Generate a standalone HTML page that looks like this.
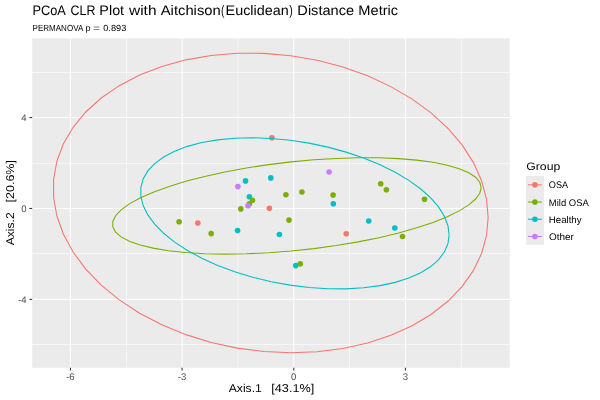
<!DOCTYPE html>
<html><head><meta charset="utf-8"><style>
html,body{margin:0;padding:0;background:#fff;width:600px;height:400px;overflow:hidden;}
svg{display:block;will-change:transform;}
text{text-rendering:geometricPrecision;}
</style></head><body>
<svg width="600" height="400" viewBox="0 0 600 400">
<rect width="600" height="400" fill="#fff"/>
<rect x="32.2" y="38.3" width="477.6" height="329.5" fill="#EBEBEB"/>
<line x1="126.45" y1="38.3" x2="126.45" y2="367.8" stroke="#fff" stroke-width="0.6"/>
<line x1="237.97" y1="38.3" x2="237.97" y2="367.8" stroke="#fff" stroke-width="0.6"/>
<line x1="349.5" y1="38.3" x2="349.5" y2="367.8" stroke="#fff" stroke-width="0.6"/>
<line x1="461.4" y1="38.3" x2="461.4" y2="367.8" stroke="#fff" stroke-width="0.6"/>
<line x1="32.2" y1="72.5" x2="509.8" y2="72.5" stroke="#fff" stroke-width="0.6"/>
<line x1="32.2" y1="163.45" x2="509.8" y2="163.45" stroke="#fff" stroke-width="0.6"/>
<line x1="32.2" y1="253.5" x2="509.8" y2="253.5" stroke="#fff" stroke-width="0.6"/>
<line x1="32.2" y1="344.5" x2="509.8" y2="344.5" stroke="#fff" stroke-width="0.6"/>
<line x1="70.44" y1="38.3" x2="70.44" y2="367.8" stroke="#fff" stroke-width="1.07"/>
<line x1="182.1" y1="38.3" x2="182.1" y2="367.8" stroke="#fff" stroke-width="1.07"/>
<line x1="293.77" y1="38.3" x2="293.77" y2="367.8" stroke="#fff" stroke-width="1.07"/>
<line x1="405.44" y1="38.3" x2="405.44" y2="367.8" stroke="#fff" stroke-width="1.07"/>
<line x1="32.2" y1="299.37" x2="509.8" y2="299.37" stroke="#fff" stroke-width="1.07"/>
<line x1="32.2" y1="208.45" x2="509.8" y2="208.45" stroke="#fff" stroke-width="1.07"/>
<line x1="32.2" y1="117.53" x2="509.8" y2="117.53" stroke="#fff" stroke-width="1.07"/>
<circle cx="245.5" cy="180.9" r="2.8" fill="#00BFC4"/>
<circle cx="270.8" cy="177.9" r="2.8" fill="#00BFC4"/>
<circle cx="249.4" cy="196.8" r="2.8" fill="#00BFC4"/>
<circle cx="237.6" cy="230.45" r="2.8" fill="#00BFC4"/>
<circle cx="279.4" cy="234.5" r="2.8" fill="#00BFC4"/>
<circle cx="295.8" cy="265.6" r="2.8" fill="#00BFC4"/>
<circle cx="333.3" cy="203.7" r="2.8" fill="#00BFC4"/>
<circle cx="368.7" cy="221" r="2.8" fill="#00BFC4"/>
<circle cx="394.8" cy="228" r="2.8" fill="#00BFC4"/>
<circle cx="271.9" cy="137.8" r="2.8" fill="#F8766D"/>
<circle cx="269.4" cy="208.3" r="2.8" fill="#F8766D"/>
<circle cx="197.85" cy="222.96" r="2.8" fill="#F8766D"/>
<circle cx="346.2" cy="233.7" r="2.8" fill="#F8766D"/>
<circle cx="252.5" cy="200.2" r="2.8" fill="#7CAE00"/>
<circle cx="249.4" cy="203.8" r="2.8" fill="#7CAE00"/>
<circle cx="240.8" cy="208.9" r="2.8" fill="#7CAE00"/>
<circle cx="285.9" cy="194.75" r="2.8" fill="#7CAE00"/>
<circle cx="301.9" cy="192" r="2.8" fill="#7CAE00"/>
<circle cx="289" cy="220.1" r="2.8" fill="#7CAE00"/>
<circle cx="179.1" cy="221.8" r="2.8" fill="#7CAE00"/>
<circle cx="211.2" cy="233.6" r="2.8" fill="#7CAE00"/>
<circle cx="300.3" cy="263.7" r="2.8" fill="#7CAE00"/>
<circle cx="333.1" cy="195.1" r="2.8" fill="#7CAE00"/>
<circle cx="380.7" cy="183.8" r="2.8" fill="#7CAE00"/>
<circle cx="386.4" cy="189.7" r="2.8" fill="#7CAE00"/>
<circle cx="424.5" cy="199.3" r="2.8" fill="#7CAE00"/>
<circle cx="402.5" cy="236.5" r="2.8" fill="#7CAE00"/>
<circle cx="237.9" cy="186.6" r="2.8" fill="#C77CFF"/>
<circle cx="248" cy="205.8" r="2.8" fill="#C77CFF"/>
<circle cx="329.1" cy="172" r="2.8" fill="#C77CFF"/>
<path d="M488.15 217.49 L486.5 199.05 L481.58 180.66 L473.46 162.61 L462.27 145.18 L448.18 128.61 L431.39 113.18 L412.17 99.1 L390.8 86.6 L367.61 75.86 L342.95 67.05 L317.2 60.3 L290.74 55.71 L263.97 53.35 L237.31 53.26 L211.15 55.43 L185.9 59.85 L161.93 66.43 L139.61 75.08 L119.27 85.67 L101.24 98.03 L85.76 111.99 L73.1 127.32 L63.42 143.8 L56.89 161.18 L53.6 179.19 L53.6 197.56 L56.89 216.01 L63.42 234.26 L73.1 252.04 L85.76 269.07 L101.24 285.1 L119.27 299.88 L139.61 313.19 L161.93 324.84 L185.9 334.63 L211.15 342.43 L237.31 348.11 L263.97 351.59 L290.74 352.82 L317.2 351.78 L342.95 348.47 L367.61 342.97 L390.8 335.34 L412.17 325.7 L431.39 314.2 L448.18 301.01 L462.27 286.34 L473.46 270.4 L481.58 253.44 L486.5 235.72 L488.15 217.49" fill="none" stroke="#F8766D" stroke-width="1.07"/>
<path d="M481.17 187.59 L479.77 182.25 L475.6 177.27 L468.72 172.72 L459.23 168.68 L447.29 165.2 L433.06 162.33 L416.76 160.13 L398.65 158.62 L378.99 157.83 L358.09 157.76 L336.26 158.43 L313.83 159.82 L291.14 161.9 L268.54 164.65 L246.37 168.03 L224.96 171.98 L204.65 176.44 L185.73 181.35 L168.49 186.64 L153.2 192.21 L140.09 198 L129.35 203.9 L121.15 209.83 L115.61 215.71 L112.82 221.43 L112.82 226.92 L115.61 232.09 L121.15 236.87 L129.35 241.17 L140.09 244.94 L153.2 248.12 L168.49 250.66 L185.73 252.52 L204.65 253.67 L224.96 254.1 L246.37 253.8 L268.54 252.77 L291.14 251.03 L313.83 248.61 L336.26 245.54 L358.09 241.87 L378.99 237.65 L398.65 232.95 L416.76 227.85 L433.06 222.41 L447.29 216.72 L459.23 210.86 L468.72 204.93 L475.6 199.02 L479.77 193.21 L481.17 187.59" fill="none" stroke="#7CAE00" stroke-width="1.07"/>
<path d="M449.12 234.81 L447.95 225.74 L444.46 216.48 L438.7 207.18 L430.76 197.96 L420.76 188.99 L408.85 180.38 L395.21 172.27 L380.05 164.78 L363.6 158.03 L346.11 152.12 L327.84 147.13 L309.07 143.15 L290.08 140.24 L271.16 138.43 L252.61 137.76 L234.69 138.23 L217.69 139.85 L201.85 142.57 L187.43 146.37 L174.63 151.19 L163.65 156.95 L154.67 163.56 L147.8 170.93 L143.17 178.94 L140.84 187.47 L140.84 196.4 L143.17 205.58 L147.8 214.88 L154.67 224.15 L163.65 233.27 L174.63 242.08 L187.43 250.45 L201.85 258.26 L217.69 265.4 L234.69 271.74 L252.61 277.2 L271.16 281.69 L290.08 285.14 L309.07 287.51 L327.84 288.75 L346.11 288.85 L363.6 287.8 L380.05 285.63 L395.21 282.36 L408.85 278.04 L420.76 272.75 L430.76 266.55 L438.7 259.55 L444.46 251.84 L447.95 243.56 L449.12 234.81" fill="none" stroke="#00BFC4" stroke-width="1.07"/>
<line x1="70.44" y1="367.8" x2="70.44" y2="370.54" stroke="#333" stroke-width="1.07"/>
<line x1="182.1" y1="367.8" x2="182.1" y2="370.54" stroke="#333" stroke-width="1.07"/>
<line x1="293.77" y1="367.8" x2="293.77" y2="370.54" stroke="#333" stroke-width="1.07"/>
<line x1="405.44" y1="367.8" x2="405.44" y2="370.54" stroke="#333" stroke-width="1.07"/>
<line x1="29.46" y1="299.37" x2="32.2" y2="299.37" stroke="#333" stroke-width="1.07"/>
<line x1="29.46" y1="208.45" x2="32.2" y2="208.45" stroke="#333" stroke-width="1.07"/>
<line x1="29.46" y1="117.53" x2="32.2" y2="117.53" stroke="#333" stroke-width="1.07"/>
<text x="70.44" y="379.5" font-size="9.6" fill="#4D4D4D" text-anchor="middle" font-family="Liberation Sans, sans-serif">-6</text>
<text x="182.1" y="379.5" font-size="9.6" fill="#4D4D4D" text-anchor="middle" font-family="Liberation Sans, sans-serif">-3</text>
<text x="293.77" y="379.5" font-size="9.6" fill="#4D4D4D" text-anchor="middle" font-family="Liberation Sans, sans-serif">0</text>
<text x="405.44" y="379.5" font-size="9.6" fill="#4D4D4D" text-anchor="middle" font-family="Liberation Sans, sans-serif">3</text>
<text x="26.6" y="302.72" font-size="9.6" fill="#4D4D4D" text-anchor="end" font-family="Liberation Sans, sans-serif">-4</text>
<text x="26.6" y="211.8" font-size="9.6" fill="#4D4D4D" text-anchor="end" font-family="Liberation Sans, sans-serif">0</text>
<text x="26.6" y="120.88" font-size="9.6" fill="#4D4D4D" text-anchor="end" font-family="Liberation Sans, sans-serif">4</text>
<text transform="translate(32.48 15.3) scale(0.9273 1)" font-size="13.77" fill="#000" font-family="Liberation Sans, sans-serif" xml:space="preserve">PCoA</text>
<text transform="translate(70.58 15.3) scale(0.8998 1)" font-size="13.77" fill="#000" font-family="Liberation Sans, sans-serif" xml:space="preserve">CLR</text>
<text transform="translate(99.35 15.3) scale(1.0439 1)" font-size="13.77" fill="#000" font-family="Liberation Sans, sans-serif" xml:space="preserve">Plot</text>
<text transform="translate(129 15.3) scale(1.1223 1)" font-size="13.77" fill="#000" font-family="Liberation Sans, sans-serif" xml:space="preserve">with</text>
<text transform="translate(160.73 15.3) scale(1.0744 1)" font-size="13.77" fill="#000" font-family="Liberation Sans, sans-serif" xml:space="preserve">Aitchison</text>
<text transform="translate(220.88 15.3) scale(0.7537 1)" font-size="13.77" fill="#000" font-family="Liberation Sans, sans-serif" xml:space="preserve">(</text>
<text transform="translate(225.6 15.3) scale(1.0437 1)" font-size="13.77" fill="#000" font-family="Liberation Sans, sans-serif" xml:space="preserve">Euclidean</text>
<text transform="translate(289.14 15.3) scale(0.7682 1)" font-size="13.77" fill="#000" font-family="Liberation Sans, sans-serif" xml:space="preserve">)</text>
<text transform="translate(297.33 15.3) scale(1.0610 1)" font-size="13.77" fill="#000" font-family="Liberation Sans, sans-serif" xml:space="preserve">Distance</text>
<text transform="translate(358.33 15.3) scale(1.0638 1)" font-size="13.77" fill="#000" font-family="Liberation Sans, sans-serif" xml:space="preserve">Metric</text>
<text transform="translate(32.56 30.7) scale(0.9089 1)" font-size="8.84" fill="#000" font-family="Liberation Sans, sans-serif" xml:space="preserve">PERMANOVA</text>
<text transform="translate(85.41 30.7) scale(1.0306 1)" font-size="8.84" fill="#000" font-family="Liberation Sans, sans-serif" xml:space="preserve">p</text>
<text transform="translate(93.23 30.7) scale(1.2827 1)" font-size="8.84" fill="#000" font-family="Liberation Sans, sans-serif" xml:space="preserve">=</text>
<text transform="translate(103.23 30.7) scale(1.0423 1)" font-size="8.84" fill="#000" font-family="Liberation Sans, sans-serif" xml:space="preserve">0.893</text>
<text transform="translate(228.69 392.2) scale(1.0631 1)" font-size="11.45" fill="#000" font-family="Liberation Sans, sans-serif" xml:space="preserve">Axis.1</text>
<text transform="translate(271.31 392.2) scale(1.1072 1)" font-size="11.45" fill="#000" font-family="Liberation Sans, sans-serif" xml:space="preserve">[43.1%]</text>
<text transform="translate(526.19 169.6) scale(1.1439 1)" font-size="10.72" fill="#000" font-family="Liberation Sans, sans-serif" xml:space="preserve">Group</text>
<g transform="translate(13.6 0) rotate(-90)"><text transform="translate(-245.26 0) scale(1.0702 1)" font-size="11.3" fill="#000" font-family="Liberation Sans, sans-serif" xml:space="preserve">Axis.2</text><text transform="translate(-202.48 0) scale(1.1078 1)" font-size="11.3" fill="#000" font-family="Liberation Sans, sans-serif" xml:space="preserve">[20.6%]</text></g>
<rect x="526" y="176" width="18" height="68.8" fill="#EBEBEB"/>
<line x1="527.9" y1="184.85" x2="541.9" y2="184.85" stroke="#F8766D" stroke-width="1.07"/>
<circle cx="534.9" cy="184.85" r="2.8" fill="#F8766D"/>
<text transform="translate(548.84 188.35) scale(0.9509 1)" font-size="9.6" fill="#000" font-family="Liberation Sans, sans-serif" xml:space="preserve">OSA</text>
<line x1="527.9" y1="202.05" x2="541.9" y2="202.05" stroke="#7CAE00" stroke-width="1.07"/>
<circle cx="534.9" cy="202.05" r="2.8" fill="#7CAE00"/>
<text transform="translate(548.84 205.55) scale(0.9851 1)" font-size="9.6" fill="#000" font-family="Liberation Sans, sans-serif" xml:space="preserve">Mild OSA</text>
<line x1="527.9" y1="219.25" x2="541.9" y2="219.25" stroke="#00BFC4" stroke-width="1.07"/>
<circle cx="534.9" cy="219.25" r="2.8" fill="#00BFC4"/>
<text transform="translate(548.78 222.75) scale(1.0086 1)" font-size="9.6" fill="#000" font-family="Liberation Sans, sans-serif" xml:space="preserve">Healthy</text>
<line x1="527.9" y1="236.45" x2="541.9" y2="236.45" stroke="#C77CFF" stroke-width="1.07"/>
<circle cx="534.9" cy="236.45" r="2.8" fill="#C77CFF"/>
<text transform="translate(548.95 239.95) scale(1.0374 1)" font-size="9.6" fill="#000" font-family="Liberation Sans, sans-serif" xml:space="preserve">Other</text>
</svg>
</body></html>
